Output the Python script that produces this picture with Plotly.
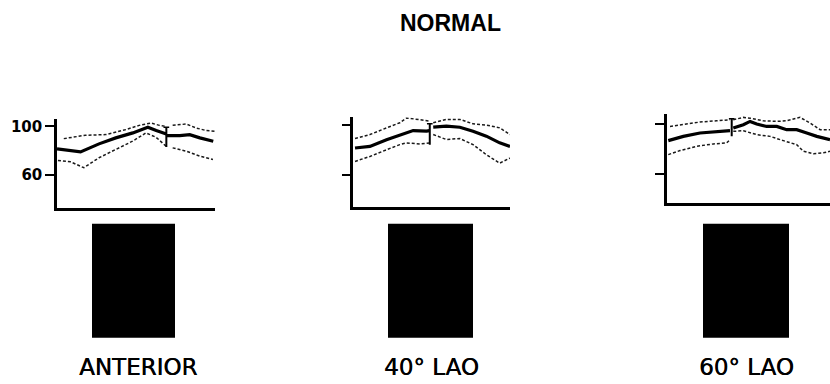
import plotly.graph_objects as go

# ---------------- data ----------------
title_text = "NORMAL"
view_labels = ["ANTERIOR", "40° LAO", "60° LAO"]
tick_vals = [60, 100]
tick_text = ["60", "100"]

# Panel 1 (ANTERIOR)
p1_mean_x = [0, 14.9, 26.6, 37.2, 48, 54.3, 57.5, 62.8, 69.2, None, 69.2, 77.7, 84, 90.4, 98.9]
p1_mean_y = [81.5, 79.0, 85.6, 90.5, 94.6, 98.1, 99.2, 96.5, 93.7, None, 92.4, 92.4, 93.2, 90.5, 87.8]
p1_up_x = [4.3, 18.1, 30.8, 43.6, 52, 59.5, 64.8, 69, None, 73.2, 81.8, 88.2, 94.5, 99.8]
p1_up_y = [89.9, 92.7, 93.2, 97.3, 100.8, 102.7, 100.8, 100.0, None, 100.8, 101.9, 98.6, 96.5, 95.9]
p1_lo_x = [0.6, 8.5, 17, 26.6, 37.2, 47.8, 56.3, 62.7, 69, None, 73.2, 81.8, 90.4, 98.7]
p1_lo_y = [72.0, 70.9, 66.0, 74.2, 81.0, 87.8, 94.6, 91.0, 83.7, None, 82.3, 79.6, 75.5, 72.8]
p1_bar = [69.2, 99.2, 83.1]   # x, top, bottom

# Panel 2 (40° LAO)
p2_mean_x = [1.1, 10.6, 21.2, 31.8, 38.2, 46.7, 48.8, None, 51, 59.4, 68, 76.4, 84.9, 93.4, 100]
p2_mean_y = [81.8, 83.1, 88.5, 93.1, 95.8, 95.3, 95.8, None, 98.5, 99.4, 98.5, 95.3, 91.3, 85.9, 83.1]
p2_up_x = [1.1, 10.6, 21.2, 29.7, 34, 42.4, 48.8, None, 51, 59.4, 68, 76.4, 84.9, 93.4, 100]
p2_up_y = [89.4, 92.6, 98.0, 102.1, 106.0, 104.8, 103.4, None, 102.1, 104.8, 104.8, 101.2, 100.2, 98.0, 92.6]
p2_lo_x = [1.1, 10.6, 21.2, 29.7, 34, 42.4, 48.8, None, 51, 59.4, 68, 76.4, 84.9, 93.4, 100]
p2_lo_y = [71.0, 75.0, 80.4, 84.5, 85.9, 85.0, 85.9, None, 92.6, 88.6, 89.4, 84.5, 76.4, 69.6, 73.7]
p2_bar = [48.8, 101.2, 84.5]

# Panel 3 (60° LAO)
p3_mean_x = [1.0, 10.6, 21.2, 31.8, 40.3, None, 42.4, 48.8, 53.1, 57.3, 63.7, 70.1, 76.4, 82.8, 89.2, 95.6, 104]
p3_mean_y = [86.8, 90.2, 92.9, 94.2, 94.7, None, 96.8, 99.5, 102.1, 100.0, 98.1, 98.1, 95.5, 95.5, 92.9, 90.2, 87.6]
p3_up_x = [2.1, 12.7, 21.2, 31.8, 40.3, None, 42.4, 48.8, 53.1, 61.5, 70.1, 76.4, 84.9, 91.3, 97.7, 104]
p3_up_y = [98.1, 100.0, 101.6, 102.6, 103.4, None, 103.4, 105.3, 104.7, 102.6, 102.1, 102.6, 105.3, 100.8, 95.5, 95.5]
p3_lo_x = [1.0, 8.5, 19.1, 29.7, 38.2, 40.3, None, 42.4, 48.8, 57.3, 65.8, 74.3, 82.8, 87, 93.4, 99.8, 104]
p3_lo_y = [75.7, 78.9, 82.3, 84.2, 85.0, 87.6, None, 94.2, 94.7, 91.6, 90.2, 86.8, 83.6, 78.4, 76.3, 77.1, 78.4]
p3_bar = [41.4, 104.2, 90.2]

panels = [
    (p1_mean_x, p1_mean_y, p1_up_x, p1_up_y, p1_lo_x, p1_lo_y, p1_bar),
    (p2_mean_x, p2_mean_y, p2_up_x, p2_up_y, p2_lo_x, p2_lo_y, p2_bar),
    (p3_mean_x, p3_mean_y, p3_up_x, p3_up_y, p3_lo_x, p3_lo_y, p3_bar),
]

# ---------------- layout geometry ----------------
W, H = 830, 384
x_domains = [[57 / W, 215 / W], [353.3 / W, 510 / W], [666.7 / W, 1.0]]
y_domains = [[1 - 207 / H, 1 - 118 / H], [1 - 206 / H, 1 - 116 / H], [1 - 201.7 / H, 1 - 112.7 / H]]
x_ranges = [[0, 100], [0, 100], [0, 104]]
y_ranges = [[33, 105.7], [34.4, 106.4], [37.5, 107.9]]
rect_x = [[92, 175], [388, 473], [703, 789]]
rect_y = [223, 337.5]
label_cx = [138, 431, 746]

fig = go.Figure()
for i, (mx, my, ux, uy, lx, ly, bar) in enumerate(panels):
    xa = "x" if i == 0 else f"x{i+1}"
    ya = "y" if i == 0 else f"y{i+1}"
    dash_style = dict(color="#1a1a1a", width=1.5, dash="3px,2px")
    fig.add_trace(go.Scatter(x=ux, y=uy, mode="lines", line=dash_style, xaxis=xa, yaxis=ya,
                             showlegend=False, connectgaps=False, hoverinfo="skip"))
    fig.add_trace(go.Scatter(x=lx, y=ly, mode="lines", line=dash_style, xaxis=xa, yaxis=ya,
                             showlegend=False, connectgaps=False, hoverinfo="skip"))
    fig.add_trace(go.Scatter(x=mx, y=my, mode="lines", line=dict(color="black", width=3.2),
                             xaxis=xa, yaxis=ya, showlegend=False, connectgaps=False))
    bx, btop, bbot = bar
    fig.add_trace(go.Scatter(x=[bx, bx], y=[btop, bbot], mode="lines",
                             line=dict(color="black", width=2), xaxis=xa, yaxis=ya,
                             showlegend=False, hoverinfo="skip"))
    fig.add_trace(go.Scatter(x=[bx - 1.8, bx + 1.8], y=[btop, btop], mode="lines",
                             line=dict(color="black", width=1.5), xaxis=xa, yaxis=ya,
                             showlegend=False, hoverinfo="skip"))

    axis_common = dict(showgrid=False, zeroline=False, showline=True, linecolor="black",
                       linewidth=2.5)
    fig.update_layout(**{
        ("xaxis" if i == 0 else f"xaxis{i+1}"): dict(
            domain=x_domains[i], range=x_ranges[i], anchor=ya, showticklabels=False,
            ticks="", **axis_common),
        ("yaxis" if i == 0 else f"yaxis{i+1}"): dict(
            domain=y_domains[i], range=y_ranges[i], anchor=xa,
            tickvals=tick_vals, ticktext=tick_text, ticks="outside", ticklen=9,
            tickwidth=2, tickcolor="black", showticklabels=(i == 0),
            tickfont=dict(family="DejaVu Sans", size=15, color="black", weight="bold"),
            **axis_common),
    })

    fig.add_shape(type="rect", xref="paper", yref="paper",
                  x0=rect_x[i][0] / W, x1=rect_x[i][1] / W,
                  y0=1 - rect_y[1] / H, y1=1 - rect_y[0] / H,
                  fillcolor="black", line=dict(color="black", width=0))
    fig.add_annotation(text=view_labels[i], xref="paper", yref="paper",
                       x=label_cx[i] / W, y=1 - 367 / H, xanchor="center", yanchor="middle",
                       showarrow=False,
                       font=dict(family="DejaVu Sans", size=23, color="black",
                                 shadow="0.4px 0 0 #000"))

fig.add_annotation(text=title_text, xref="paper", yref="paper", x=450 / W, y=1 - 21 / H,
                   xanchor="center", yanchor="middle", showarrow=False,
                   font=dict(family="Liberation Sans", size=23, color="black", weight="bold"))

fig.update_layout(width=W, height=H, margin=dict(l=0, r=0, t=0, b=0),
                  paper_bgcolor="white", plot_bgcolor="white", showlegend=False)

fig.write_html("out.html", config={"displayModeBar": False},
               post_script="document.body.style.margin='0px';document.body.style.overflow='hidden';")
